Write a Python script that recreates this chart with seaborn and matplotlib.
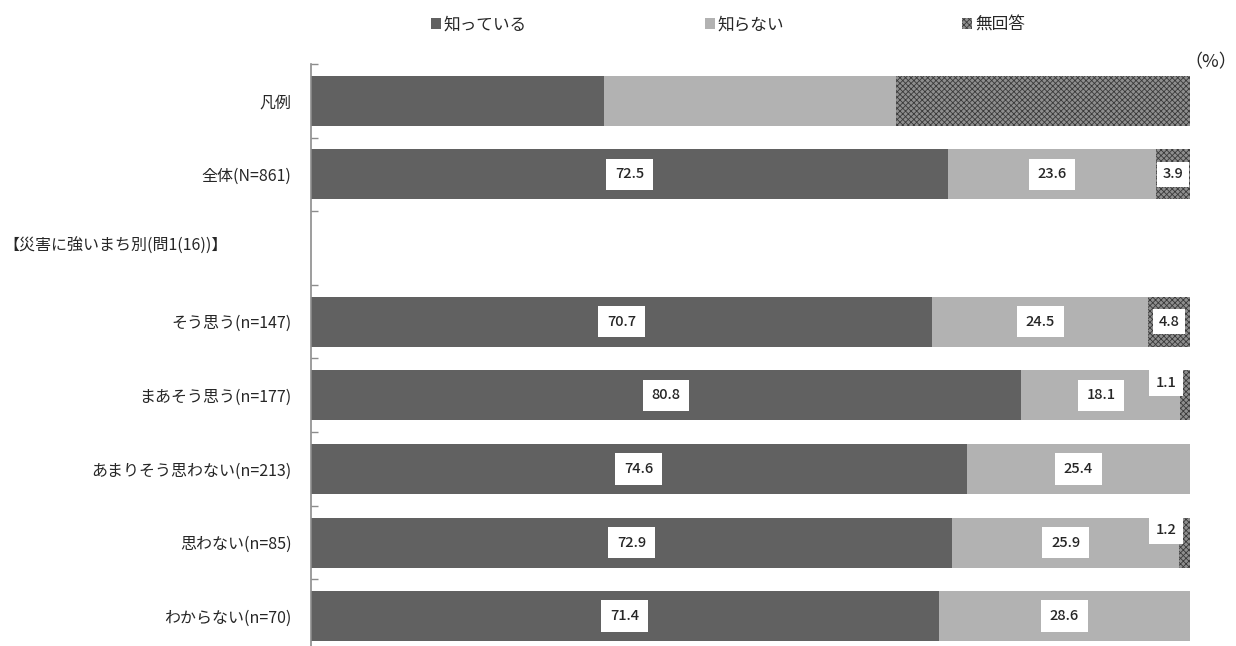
import matplotlib
matplotlib.use("Agg")
import matplotlib.pyplot as plt
import seaborn as sns
import pandas as pd
import numpy as np
from matplotlib.patches import Patch

# data (percent)
categories = ['凡例', '全体(N=861)', 'header', 'そう思う(n=147)', 'まあそう思う(n=177)',
              'あまりそう思わない(n=213)', '思わない(n=85)', 'わからない(n=70)']
header_label = '【災害に強いまち別(問1(16))】'
know = [33.3, 72.5, np.nan, 70.7, 80.8, 74.6, 72.9, 71.4]
dont_know = [33.3, 23.6, np.nan, 24.5, 18.1, 25.4, 25.9, 28.6]
no_answer = [33.4, 3.9, np.nan, 4.8, 1.1, 0.0, 1.2, 0.0]
series_names = ['知っている', '知らない', '無回答']

sns.set_style("white")
plt.rcParams['font.family'] = ['Noto Sans CJK JP', 'DejaVu Sans']
plt.rcParams['hatch.linewidth'] = 0.6

dark = '#616161'
light = '#b2b2b2'
hatch_face = '#8e8e8e'
hatch_edge = '#3a3a3a'

df = pd.DataFrame({'label': categories, 'know': know, 'dont': dont_know, 'na': no_answer})
df['cum1'] = df['know']
df['cum2'] = df['know'] + df['dont']
df['cum3'] = df['cum2'] + df['na']

fig = plt.figure(figsize=(12.36, 6.46), dpi=100)
ax = fig.add_axes([0.2516, -0.0108, 0.7112, 0.9118])

# overlapping cumulative bars: total (no answer) -> light -> dark
n0 = len(ax.patches)
sns.barplot(data=df, x='cum3', y='label', order=categories, orient='h', color=hatch_face,
            width=0.68, errorbar=None, saturation=1, linewidth=0, ax=ax)
for p in ax.patches[n0:]:
    p.set_hatch('xxxxxx')
    p.set_edgecolor(hatch_edge)
    p.set_linewidth(0)
sns.barplot(data=df, x='cum2', y='label', order=categories, orient='h', color=light,
            width=0.68, errorbar=None, saturation=1, linewidth=0, ax=ax)
sns.barplot(data=df, x='cum1', y='label', order=categories, orient='h', color=dark,
            width=0.68, errorbar=None, saturation=1, linewidth=0, ax=ax)

# value labels
box = dict(boxstyle='square,pad=0.6', fc='white', ec='none')
for i, row in df.iterrows():
    if i == 0 or np.isnan(row['know']):
        continue
    segs = [(row['know'], 0), (row['dont'], row['cum1']), (row['na'], row['cum2'])]
    for val, start in segs:
        if val <= 0:
            continue
        if val < 2:
            ax.text(97.3, i - 0.17, f'{val:.1f}', ha='center', va='center', fontsize=10.5,
                    fontweight='medium',
                    bbox=dict(boxstyle='square,pad=0.45', fc='white', ec='none'))
        elif val < 6:
            ax.text(start + val / 2, i, f'{val:.1f}', ha='center', va='center', fontsize=10.5,
                    fontweight='medium',
                    bbox=dict(boxstyle='square,pad=0.4', fc='white', ec='none'))
        else:
            ax.text(start + val / 2, i, f'{val:.1f}', ha='center', va='center', fontsize=10.5,
                    fontweight='medium', bbox=box)

ax.set_xlim(0, 100)
ax.set_ylim(len(categories) - 0.5, -0.5)
ax.set_xlabel('')
ax.set_ylabel('')
ax.set_xticks([])
for s in ['top', 'right', 'bottom']:
    ax.spines[s].set_visible(False)
ax.spines['left'].set_color('#8c8c8c')
ax.spines['left'].set_linewidth(1.2)

ax.set_yticks(range(len(categories)))
ax.set_yticklabels([c if c != 'header' else '' for c in categories], fontsize=11.5)
ax.set_yticks(np.arange(-0.5, len(categories), 1.0), minor=True)
ax.tick_params(axis='y', which='major', left=False, length=0, pad=14)
ax.tick_params(axis='y', which='minor', left=True, direction='in', length=5,
               color='#8c8c8c', width=1)

fig.text(3 / 1236, 1 - 246 / 646, header_label, ha='left', va='center', fontsize=11.5)
fig.text(1211 / 1236, 1 - 62 / 646, '（%）', ha='center', va='center', fontsize=13)

handles = [Patch(facecolor=dark, edgecolor='none'),
           Patch(facecolor=light, edgecolor='none'),
           Patch(facecolor=hatch_face, edgecolor=hatch_edge, hatch='xxxxxx', linewidth=0)]
fig.legend(handles, series_names, loc='center', bbox_to_anchor=(728 / 1236, 1 - 25 / 646),
           ncol=3, frameon=False, fontsize=12, handlelength=0.6, handleheight=0.6,
           handletextpad=0.15, columnspacing=10.7)

fig.savefig('out.png', dpi=100)
